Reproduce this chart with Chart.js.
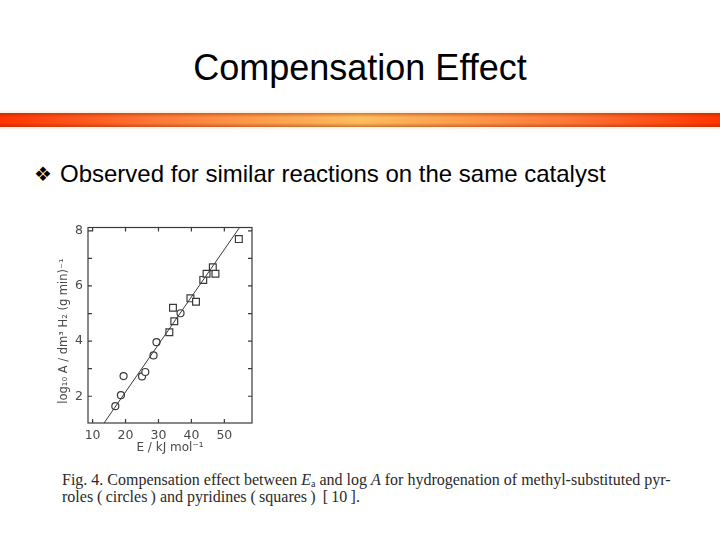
<!DOCTYPE html>
<html>
<head>
<meta charset="utf-8">
<script src="https://cdn.jsdelivr.net/npm/chart.js@4/dist/chart.umd.min.js"></script>
<style>
  body { margin: 0; width: 720px; height: 540px; background: #fff; position: relative; overflow: hidden;
         font-family: "Liberation Sans", Arial, sans-serif; }
  #title { position: absolute; left: 0; top: 48px; width: 720px; text-align: center;
           font-size: 36px; line-height: 40px; color: #000; }
  #bar { position: absolute; left: 0; top: 113px; width: 720px; height: 14px;
         background:
           linear-gradient(to bottom, rgba(140,40,0,0.45) 0, rgba(140,40,0,0) 30%, rgba(140,40,0,0) 70%, rgba(140,40,0,0.45) 100%),
           linear-gradient(to right, #ff3300 0, #ff7a38 22%, #ffbe5e 50%, #ff7a38 78%, #ff3300 100%);
         box-shadow: 0 -2px 2px #fdf0e2, 0 2px 2px #fdf0e2; }
  #dia { position: absolute; left: 34px; top: 162px; font-family: "DejaVu Sans"; font-size: 20px; line-height: 24px; color: #000; }
  #bullet { position: absolute; left: 60px; top: 160px; font-size: 24px; line-height: 28px; color: #000; white-space: nowrap; }
  #box { position: absolute; left: 40px; top: 215px; width: 230px; height: 245px; }
  #cap { position: absolute; left: 62px; top: 471px; font-family: "Liberation Serif", serif; font-size: 16px;
         line-height: 17px; color: #2a2a2a; white-space: nowrap; }
  #cap sub { font-size: 10px; line-height: 0; vertical-align: -2px; }
</style>
</head>
<body>
<div id="title">Compensation Effect</div>
<div id="bar"></div>
<div id="dia">❖</div>
<div id="bullet">Observed for similar reactions on the same catalyst</div>
<div id="box"><canvas id="myChart" width="230" height="245"></canvas></div>
<div id="cap">Fig. 4. Compensation effect between <i>E</i><sub>a</sub> and log <i>A</i> for hydrogenation of methyl-substituted pyr-<br>roles (&thinsp;circles&thinsp;) and pyridines (&thinsp;squares&thinsp;) &thinsp;[&thinsp;10&thinsp;].</div>
<script>
// pyrroles (circles)
const circleE = [16.9, 18.6, 19.4, 25.0, 26.0, 28.5, 29.4, 36.7];
const circleLogA = [1.64, 2.04, 2.73, 2.72, 2.88, 3.48, 3.96, 5.01];
// pyridines (squares)
const squareE = [33.3, 34.8, 34.4, 39.7, 41.4, 43.6, 44.6, 46.5, 47.3, 54.4];
const squareLogA = [4.32, 4.72, 5.21, 5.55, 5.43, 6.22, 6.44, 6.68, 6.44, 7.70];
// fitted line
const fitE = [13.3, 54.5];
const fitLogA = [1.0, 8.1];
// axes
const xTickLabels = [10, 20, 30, 40, 50];
const yTickLabels = [2, 4, 6, 8];
const xTickMarks = [10, 20, 30, 40, 50];
const yTickMarks = [2, 3, 4, 5, 6, 7, 8];

const ink = '#3a3a3a';
const toPoints = (xs, ys) => xs.map((v, i) => ({ x: v, y: ys[i] }));

const framePlugin = {
  id: 'frame',
  afterDatasetsDraw(chart) {
    const { ctx, chartArea: a, scales: { x, y } } = chart;
    ctx.save();
    ctx.strokeStyle = ink;
    ctx.lineWidth = 1.2;
    ctx.strokeRect(a.left, a.top, a.right - a.left, a.bottom - a.top);
    ctx.beginPath();
    yTickMarks.forEach(v => {
      const py = y.getPixelForValue(v);
      ctx.moveTo(a.left, py); ctx.lineTo(a.left + 4, py);
      ctx.moveTo(a.right, py); ctx.lineTo(a.right - 4, py);
    });
    xTickMarks.forEach(v => {
      const px = x.getPixelForValue(v);
      ctx.moveTo(px, a.bottom); ctx.lineTo(px, a.bottom - 4);
      ctx.moveTo(px, a.top); ctx.lineTo(px, a.top + 4);
    });
    ctx.stroke();
    ctx.restore();
  }
};

const ctx = document.getElementById('myChart');
new Chart(ctx, {
  type: 'scatter',
  data: {
    datasets: [{
      label: 'fit',
      data: toPoints(fitE, fitLogA),
      showLine: true,
      borderColor: ink,
      borderWidth: 1,
      pointRadius: 0
    }, {
      label: 'pyrroles',
      data: toPoints(circleE, circleLogA),
      pointStyle: 'circle',
      pointRadius: 3.5,
      borderColor: ink,
      borderWidth: 1.2,
      backgroundColor: '#fff'
    }, {
      label: 'pyridines',
      data: toPoints(squareE, squareLogA),
      pointStyle: 'rect',
      pointRadius: 4.8,
      borderColor: ink,
      borderWidth: 1.2,
      backgroundColor: '#fff'
    }]
  },
  options: {
    responsive: false,
    animation: false,
    layout: { padding: { top: 12, right: 18, left: 0, bottom: 0 } },
    plugins: { legend: { display: false }, tooltip: { enabled: false } },
    scales: {
      x: {
        type: 'linear',
        min: 8.6,
        max: 58.4,
        afterBuildTicks: s => { s.ticks = xTickLabels.map(v => ({ value: v })); },
        afterFit: s => { s.height = 37; },
        grid: { display: false, drawTicks: false },
        border: { display: false },
        ticks: { color: '#4a4a4a', padding: 5, font: { family: 'DejaVu Sans', size: 12.5 } },
        title: { display: true, text: 'E / kJ mol⁻¹', color: '#4a4a4a', padding: { bottom: 5 },
                 font: { family: 'DejaVu Sans', size: 12 } }
      },
      y: {
        type: 'linear',
        min: 1.03,
        max: 8.12,
        afterBuildTicks: s => { s.ticks = yTickLabels.map(v => ({ value: v })); },
        afterFit: s => { s.width = 48; },
        grid: { display: false, drawTicks: false },
        border: { display: false },
        ticks: { color: '#4a4a4a', padding: 5, font: { family: 'DejaVu Sans', size: 12.5 } },
        title: { display: true, text: 'log₁₀ A / dm³ H₂ (g min)⁻¹\u2002\u2002', color: '#4a4a4a', padding: { top: 17 },
                 font: { family: 'DejaVu Sans', size: 11.5 } }
      }
    }
  },
  plugins: [framePlugin]
});
</script>
</body>
</html>
